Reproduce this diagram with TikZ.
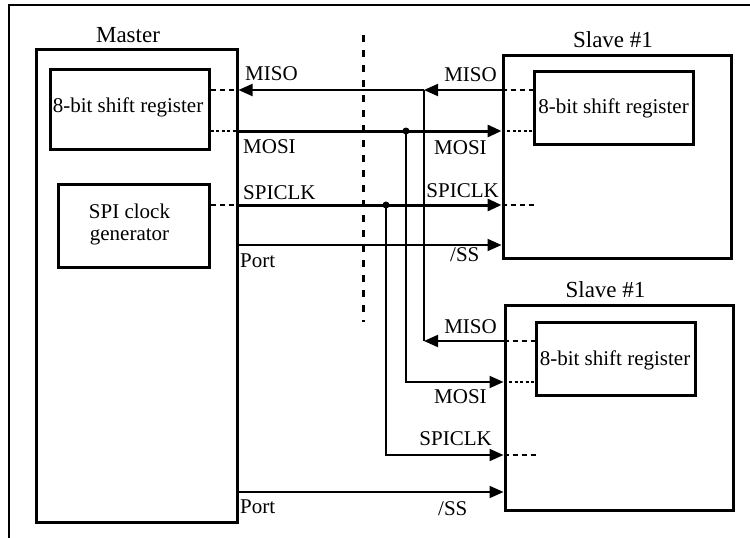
\documentclass[tikz,border=0pt]{standalone}
\usepackage{fontspec}
\setmainfont{Liberation Serif}
\usetikzlibrary{arrows.meta}
\begin{document}
\begin{tikzpicture}[x=1pt,y=-1pt,
  box/.style={draw, line width=3pt, inner sep=0pt},
  txt/.style={inner sep=0pt, font=\fontsize{21}{24}\selectfont},
  ttl/.style={inner sep=0pt, font=\fontsize{23}{26}\selectfont},
  wthick/.style={line width=3pt},
  wthin/.style={line width=2pt},
  arr/.style={-{Triangle[length=14pt,width=12pt]}},
  shortdash/.style={line width=2pt, dash pattern=on 5pt off 4pt},
  shortdot/.style={line width=2.8pt, dash pattern=on 3pt off 2.5pt},
  jdot/.style={circle, fill, inner sep=0pt, minimum size=7pt}]
\useasboundingbox (0,0) rectangle (750,538);
% outer frame
\coordinate (fa) at (750,5);
\coordinate (fb) at (9,5);
\coordinate (fc) at (9,538);
\draw[line width=2.2pt] (fa) -- (fb) -- (fc);
% centre dashed line
\coordinate (ca) at (363,35);
\coordinate (cb) at (363,322);
\draw[line width=3pt, dash pattern=on 7pt off 8pt] (ca) -- (cb);
% boxes
\node[box, minimum width=201pt, minimum height=473pt] (master) at (136.5,285.5) {};
\node[box, minimum width=159pt, minimum height=80pt] (msr) at (129.5,109) {};
\node[box, minimum width=151pt, minimum height=83pt] (clk) at (133.5,225.5) {};
\node[box, minimum width=228pt, minimum height=203pt] (s1) at (617,156.5) {};
\node[box, minimum width=159pt, minimum height=73pt] (s1sr) at (613.5,107.5) {};
\node[box, minimum width=228pt, minimum height=205pt] (s2) at (619,407.5) {};
\node[box, minimum width=159pt, minimum height=73pt] (s2sr) at (615.5,358.5) {};
% titles and box texts
\node[ttl, anchor=base] (tm) at (128,42) {Master};
\node[ttl, anchor=base] (ts1) at (613,47) {Slave \#1};
\node[ttl, anchor=base] (ts2) at (605.5,297) {Slave \#1};
\node[txt, anchor=base] (tmsr) at (128,112) {8-bit shift register};
\node[txt, anchor=base] (ts1sr) at (613.5,113) {8-bit shift register};
\node[txt, anchor=base] (ts2sr) at (615,365) {8-bit shift register};
\node[txt, anchor=base] (tclk1) at (129.5,218) {SPI clock};
\node[txt, anchor=base] (tclk2) at (129.5,240) {generator};
% junction coordinates
\coordinate (jmiso) at (424,90);
\coordinate (jmiso2) at (424,341);
\node[jdot] (jmosi) at (406,131) {};
\node[jdot] (jclk) at (386,205) {};
% master side dashed stubs
\draw[shortdash] (msr.east |- 0,90) -- (master.east |- 0,90);
\draw[shortdot] (msr.east |- 0,131) -- (master.east |- 0,131);
\draw[shortdash] (clk.east |- 0,205) -- (master.east |- 0,205);
% slave 1 stubs
\coordinate (s1clkend) at (537,205);
\draw[shortdash] (s1.west |- 0,90) -- (s1sr.west |- 0,90);
\draw[shortdot] (s1.west |- 0,131) -- (s1sr.west |- 0,131);
\draw[shortdash] (s1.west |- 0,205) -- (s1clkend);
% slave 2 stubs
\coordinate (s2clkend) at (539,455);
\draw[shortdash] (s2.west |- 0,341) -- (s2sr.west |- 0,341);
\draw[shortdot] (s2.west |- 0,382) -- (s2sr.west |- 0,382);
\draw[shortdash] (s2.west |- 0,455) -- (s2clkend);
% MISO
\draw[wthin, arr] (s1.west |- 0,90) -- (jmiso);
\draw[wthin, arr] (jmiso) -- (master.east |- 0,90);
\draw[wthin] (jmiso) -- (jmiso2);
\draw[wthin, arr] (s2.west |- 0,341) -- (jmiso2);
% MOSI
\draw[wthick, arr] (master.east |- 0,131) -- (s1.west |- 0,131);
\draw[wthin, arr] (jmosi.center) |- (s2.west |- 0,382);
% SPICLK
\draw[wthick, arr] (master.east |- 0,205) -- (s1.west |- 0,205);
\draw[wthin, arr] (jclk.center) |- (s2.west |- 0,455);
% Port / SS
\draw[wthin, arr] (master.east |- 0,245) -- (s1.west |- 0,245);
\draw[wthin, arr] (master.east |- 0,492) -- (s2.west |- 0,492);
% wire labels master side
\node[txt, anchor=base west] (lmiso) at (245,80) {MISO};
\node[txt, anchor=base west] (lmosi) at (243,153) {MOSI};
\node[txt, anchor=base west] (lclk) at (243,199) {SPICLK};
\node[txt, anchor=base west] (lport) at (240,267) {Port};
\node[txt, anchor=base west] (lport2) at (240,513) {Port};
% slave 1 labels
\node[txt, anchor=base east] (l1miso) at (497,81) {MISO};
\node[txt, anchor=base west] (l1mosi) at (434,154) {MOSI};
\node[txt, anchor=base east] (l1clk) at (499,197) {SPICLK};
\node[txt, anchor=base west] (l1ss) at (450,261) {/SS};
% slave 2 labels
\node[txt, anchor=base east] (l2miso) at (497,333) {MISO};
\node[txt, anchor=base west] (l2mosi) at (434,403) {MOSI};
\node[txt, anchor=base east] (l2clk) at (492,445) {SPICLK};
\node[txt, anchor=base west] (l2ss) at (438,515) {/SS};
\end{tikzpicture}
\end{document}
